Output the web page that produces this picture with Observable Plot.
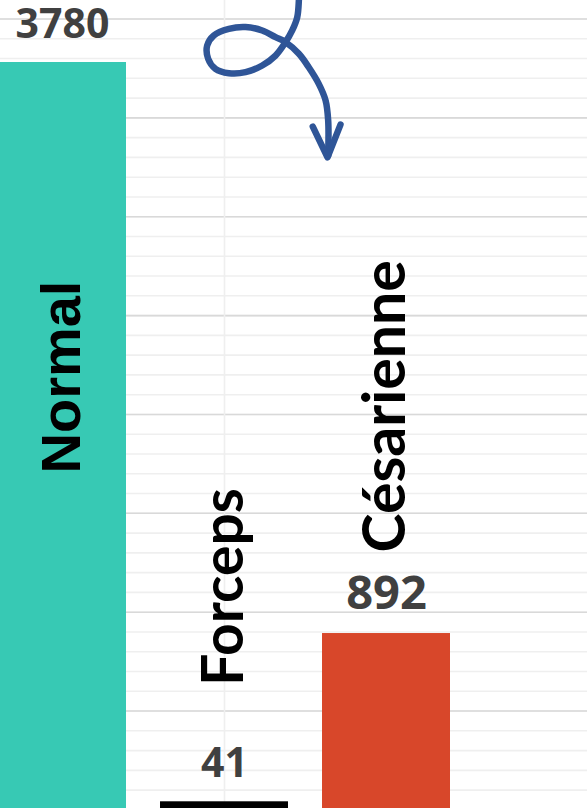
<!DOCTYPE html>
<html>
<head>
<meta charset="utf-8">
<script src="https://cdn.jsdelivr.net/npm/d3@7"></script>
<script src="https://cdn.jsdelivr.net/npm/@observablehq/plot@0.6"></script>
<style>
  html, body { margin: 0; padding: 0; background: #ffffff; }
  #chart svg { display: block; }
</style>
</head>
<body>
<div id="chart"></div>
<script>
// ---- data ----
const categories = ["Normal", "Forceps", "Césarienne"];
const counts = [3780, 41, 892];

// grid tick values (value units)
const minorTicks = d3.range(0, 4100, 100);
const majorTicks = d3.range(0, 4100, 500);

// hand-drawn arrow annotation (x in category-index units, y in value units)
const arrowX = [1.460, 1.459, 1.449, 1.418, 1.377, 1.315, 1.233, 1.130, 1.027, 0.944, 0.899, 0.893, 0.934, 1.027, 1.130, 1.233, 1.315, 1.377, 1.459, 1.520, 1.582, 1.624, 1.640, 1.640];
const arrowY = [4125, 4094, 4009, 3942, 3883, 3815, 3765, 3731, 3726, 3748, 3799, 3866, 3917, 3950, 3959, 3942, 3908, 3883, 3824, 3756, 3672, 3588, 3487, 3310];
const arrowHeadX = [1.545, 1.636, 1.716];
const arrowHeadY = [3456, 3300, 3466];

// ---- table ----
const table = categories.map((category, i) => ({category, count: counts[i], i}));
const idx = c => categories.indexOf(c);

const calibriLike = "Lato, 'Open Sans', sans-serif";

const chart = Plot.plot({
  width: 587,
  height: 808,
  margin: 0,
  style: {background: "#ffffff"},
  x: {type: "linear", domain: [-0.38272, 3.24074], axis: null},
  y: {domain: [0, 4093.6], range: [809.4, 0], axis: null},
  color: {domain: categories, range: ["#37C9B4", "#000000", "#D8472A"]},
  marks: [
    Plot.ruleY(minorTicks, {stroke: "#efefef", strokeWidth: 1.6}),
    Plot.ruleY(majorTicks, {stroke: "#d9d9d9", strokeWidth: 1.6}),
    Plot.ruleX([idx("Forceps")], {stroke: "#efefef", strokeWidth: 1.6}),
    Plot.rectY(table, {
      x1: d => d.i - 0.395,
      x2: d => d.i + 0.395,
      y1: 0,
      y2: "count",
      fill: "category"
    }),
    // value labels
    Plot.text(table, {
      x: "i",
      y: "count",
      text: d => String(d.count),
      dy: -25,
      lineAnchor: "bottom",
      fontFamily: "'Open Sans', sans-serif",
      fontWeight: 700,
      fontSize: d => d.category === "Césarienne" ? 47 : 41,
      fill: "#404040"
    }),
    // category labels
    Plot.text(table.filter(d => d.category === "Normal"), {
      x: "i", y: "count", text: "category", rotate: -90, dy: 411,
      textAnchor: "start", lineAnchor: "middle",
      fontFamily: "'Liberation Sans', Arial, sans-serif", fontWeight: 700, fontSize: 56, fill: "#000"
    }),
    Plot.text(table.filter(d => d.category === "Forceps"), {
      x: "i", y: "count", text: "category", rotate: -90, dy: -116,
      textAnchor: "start", lineAnchor: "middle",
      fontFamily: calibriLike, fontWeight: 700, fontSize: 57, fill: "#000"
    }),
    Plot.text(table.filter(d => d.category === "Césarienne"), {
      x: "i", y: "count", text: "category", rotate: -90, dy: -81,
      textAnchor: "start", lineAnchor: "middle",
      fontFamily: calibriLike, fontWeight: 700, fontSize: 59, fill: "#000"
    }),
    // arrow annotation
    Plot.line(arrowX.map((x, i) => [x, arrowY[i]]), {
      stroke: "#2F5597", strokeWidth: 6.5, curve: "catmull-rom",
      strokeLinecap: "round", strokeLinejoin: "round"
    }),
    Plot.line(arrowHeadX.map((x, i) => [x, arrowHeadY[i]]), {
      stroke: "#2F5597", strokeWidth: 6.5,
      strokeLinecap: "round", strokeLinejoin: "round"
    })
  ]
});

document.getElementById("chart").appendChild(chart);
</script>
</body>
</html>
